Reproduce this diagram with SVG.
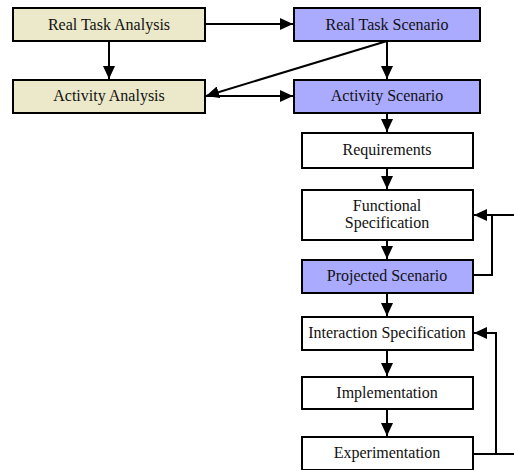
<svg xmlns="http://www.w3.org/2000/svg" width="514" height="470" viewBox="0 0 514 470">
<style>
.box{stroke:#000;stroke-width:2}
.beige{fill:#ebe9c9}
.blue{fill:#aaaaff}
.white{fill:#ffffff}
text{font-family:"Liberation Serif","Times New Roman",serif;font-size:16px;fill:#111;text-anchor:middle}
.c{fill:none;stroke:#000;stroke-width:2}
</style>
<defs>
<marker id="ah" markerUnits="userSpaceOnUse" markerWidth="13" markerHeight="12" viewBox="0 0 13 12" refX="13" refY="6" orient="auto">
<path d="M0,0 L13,6 L0,12 z" fill="#000"/>
</marker>
</defs>
<rect width="514" height="470" fill="#fff"/>
<g id="connectors">
<line class="c" x1="205" y1="24" x2="293" y2="24" marker-end="url(#ah)"/>
<line class="c" x1="109" y1="41" x2="109" y2="79" marker-end="url(#ah)"/>
<line class="c" x1="387" y1="41" x2="387" y2="79" marker-end="url(#ah)"/>
<line class="c" x1="387" y1="41" x2="206" y2="96" marker-end="url(#ah)"/>
<line class="c" x1="205" y1="96" x2="293" y2="96" marker-end="url(#ah)"/>
<line class="c" x1="387" y1="113" x2="387" y2="132" marker-end="url(#ah)"/>
<line class="c" x1="387" y1="168" x2="387" y2="189" marker-end="url(#ah)"/>
<line class="c" x1="387" y1="240" x2="387" y2="259" marker-end="url(#ah)"/>
<line class="c" x1="387" y1="293" x2="387" y2="316" marker-end="url(#ah)"/>
<line class="c" x1="387" y1="350" x2="387" y2="376" marker-end="url(#ah)"/>
<line class="c" x1="387" y1="409" x2="387" y2="436" marker-end="url(#ah)"/>
<polyline class="c" points="473,275 492,275 492,215"/>
<line class="c" x1="514" y1="215" x2="474" y2="215" marker-end="url(#ah)"/>
<polyline class="c" points="473,454 514,454"/>
<polyline class="c" points="496,454 496,333 474,333" marker-end="url(#ah)"/>
</g>
<g id="real-task-analysis"><rect class="box beige" x="13" y="8" width="192" height="33"/><text x="109" y="30">Real Task Analysis</text></g>
<g id="real-task-scenario"><rect class="box blue" x="294" y="8" width="186" height="33"/><text x="387" y="30">Real Task Scenario</text></g>
<g id="activity-analysis"><rect class="box beige" x="13" y="80" width="192" height="33"/><text x="109" y="101">Activity Analysis</text></g>
<g id="activity-scenario"><rect class="box blue" x="294" y="80" width="186" height="33"/><text x="387" y="101">Activity Scenario</text></g>
<g id="requirements"><rect class="box white" x="302" y="133" width="171" height="35"/><text x="387" y="155">Requirements</text></g>
<g id="functional-specification"><rect class="box white" x="302" y="190" width="171" height="50"/><text x="387" y="211">Functional</text><text x="387" y="228">Specification</text></g>
<g id="projected-scenario"><rect class="box blue" x="302" y="260" width="171" height="33"/><text x="387" y="281">Projected Scenario</text></g>
<g id="interaction-specification"><rect class="box white" x="302" y="317" width="171" height="33"/><text x="387" y="338">Interaction Specification</text></g>
<g id="implementation"><rect class="box white" x="302" y="377" width="171" height="32"/><text x="387" y="398">Implementation</text></g>
<g id="experimentation"><rect class="box white" x="302" y="437" width="171" height="33"/><text x="387" y="458">Experimentation</text></g>
</svg>
